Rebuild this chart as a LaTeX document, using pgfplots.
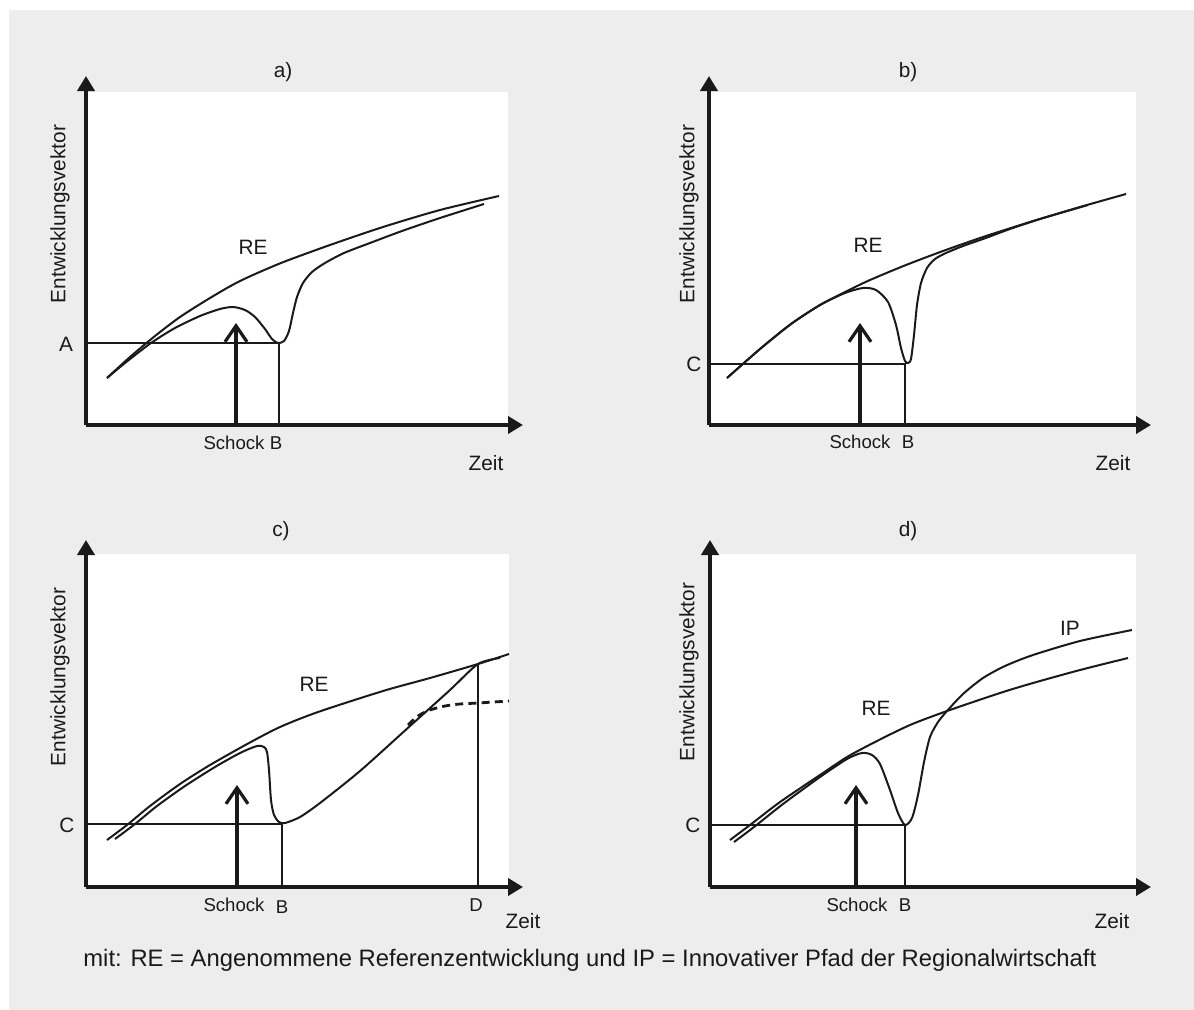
\documentclass[border=0pt]{standalone}
\usepackage{fontspec}
\setmainfont{Liberation Sans}
\usepackage{pgfplots}
\pgfplotsset{compat=1.18}
\usetikzlibrary{arrows.meta}
\definecolor{bg}{HTML}{EDEDED}
\definecolor{ink}{HTML}{1A1A1A}

% all coordinates are pixel positions (y grows downwards)
\pgfplotsset{
  panel/.style={x=0.5pt, y=0.5pt, y dir=reverse, anchor=south west,
    axis line style={draw=none}, xtick=\empty, ytick=\empty, clip=false,
    axis background/.style={fill=white}},
  crv/.style={ink, line width=1.0pt, smooth, tension=0.45, mark=none},
  guide/.style={ink, line width=0.65pt, mark=none},
  axarrow/.style={ink, line width=1.9pt, mark=none, -{Triangle[length=7.5pt,width=8.5pt]}},
  shock/.style={ink, line width=1.7pt, mark=none, -{Straight Barb[length=8pt,width=11pt,line width=1.6pt]}},
}
\tikzset{lab/.style={font=\fontsize{10.4}{12}\selectfont, text=ink},
         slab/.style={font=\fontsize{9.3}{11}\selectfont, text=ink},
         ylab/.style={font=\fontsize{10.4}{12}\selectfont, text=ink, rotate=90}}

\begin{document}
\begin{tikzpicture}
\fill[white] (0,0) rectangle (597pt,-505pt);
\fill[bg] (4.5pt,-5pt) rectangle (597pt,-505pt);

% ---------------- a)
\begin{axis}[panel, at={(43pt,-212.5pt)}, xmin=86, xmax=508, ymin=92, ymax=425]
\addplot[guide] coordinates {(86,343) (279,343) (279,425)};
\addplot[crv] coordinates {(107,378) (130,357) (155,336) (180,317) (210,298) (240,281)
  (281,263) (330,245) (383,227) (440,210) (499,196)};
\addplot[crv] coordinates {(107,378) (125,363) (151,343) (175,328) (200,316) (220,309)
  (233,307) (245,310) (255,317) (265,329) (272,339) (278,343) (284,341) (289,331)
  (293,313) (297,297) (303,283) (312,272) (325,263) (344,253) (370,243) (402,231)
  (440,218) (484,204)};
\addplot[shock] coordinates {(236,425) (236,323)};
\addplot[axarrow] coordinates {(86,425) (523,425)};
\addplot[axarrow] coordinates {(86,425) (86,76)};
\node[lab] at (axis cs:283,72) {a)};
\node[ylab] at (axis cs:60,214) {Entwicklungsvektor};
\node[lab] at (axis cs:66,344) {A};
\node[slab] at (axis cs:234,443) {Schock};
\node[slab] at (axis cs:276,443) {B};
\node[lab] at (axis cs:486,463) {Zeit};
\node[lab] at (axis cs:253,247) {RE};
\end{axis}

% ---------------- b)
\begin{axis}[panel, at={(354.5pt,-212.5pt)}, xmin=709, xmax=1136, ymin=92, ymax=425]
\addplot[guide] coordinates {(709,364) (905,364) (905,425)};
\addplot[crv] coordinates {(727,378) (760,349) (791,324) (820,305) (845,292) (870,280)
  (906,265) (943,251) (983,237) (1030,222) (1080,207) (1126,194)};
\addplot[crv] coordinates {(727,378) (760,349) (791,324) (820,305) (845,293) (863,288)
  (876,290) (888,302) (896,325) (901,348) (905,361) (908,363) (911,359) (914,335)
  (917,305) (921,283) (927,268) (935,259) (946,253) (963,246) (983,239) (1010,229)
  (1040,219) (1088,205)};
\addplot[shock] coordinates {(860,425) (860,323)};
\addplot[axarrow] coordinates {(709,425) (1151,425)};
\addplot[axarrow] coordinates {(709,425) (709,76)};
\node[lab] at (axis cs:908,72) {b)};
\node[ylab] at (axis cs:689,214) {Entwicklungsvektor};
\node[lab] at (axis cs:694,364) {C};
\node[slab] at (axis cs:860,442) {Schock};
\node[slab] at (axis cs:908,442) {B};
\node[lab] at (axis cs:1113,463) {Zeit};
\node[lab] at (axis cs:868,245) {RE};
\end{axis}

% ---------------- c)
\begin{axis}[panel, at={(43pt,-443.5pt)}, xmin=86, xmax=509, ymin=554, ymax=887]
\addplot[guide] coordinates {(86,824) (282,824) (282,887)};
\addplot[ink, line width=0.8pt, mark=none] coordinates {(478,664) (478,887)};
\addplot[crv] coordinates {(107,840) (127,825) (150,806) (180,784) (210,765) (249,743)
  (280,727) (318,712) (383,691) (430,678) (478,664) (509,654)};
\addplot[crv] coordinates {(115,839) (135,824) (157,806) (185,786) (215,767) (240,753)
  (257,746) (264,747) (267,752) (269,770) (271,800) (274,815) (279,822) (285,823)
  (300,817) (320,803) (360,771) (410,726) (450,690) (478,664) (500,658)};
\addplot[ink, line width=1.4pt, smooth, mark=none, dash pattern=on 4pt off 2.6pt]
  coordinates {(408,725) (418,716) (430,710) (445,706) (460,704) (478,703) (509,701)};
\addplot[shock] coordinates {(237,887) (237,785)};
\addplot[axarrow] coordinates {(86,887) (523,887)};
\addplot[axarrow] coordinates {(86,887) (86,540)};
\node[lab] at (axis cs:281,531) {c)};
\node[ylab] at (axis cs:60,677) {Entwicklungsvektor};
\node[lab] at (axis cs:67,825) {C};
\node[slab] at (axis cs:234,905) {Schock};
\node[slab] at (axis cs:282,907) {B};
\node[slab] at (axis cs:476,905) {D};
\node[lab] at (axis cs:523,921) {Zeit};
\node[lab] at (axis cs:314,684) {RE};
\end{axis}

% ---------------- d)
\begin{axis}[panel, at={(355pt,-443.5pt)}, xmin=710, xmax=1136, ymin=554, ymax=887]
\addplot[guide] coordinates {(710,825) (905,825) (905,887)};
\addplot[crv] coordinates {(730,840) (750,825) (780,802) (820,775) (847,757) (877,741)
  (910,725) (947,711) (1000,693) (1033,683) (1080,670) (1128,658)};
\addplot[crv] coordinates {(734,842) (754,827) (783,804) (820,777) (847,759) (862,753)
  (872,755) (880,764) (890,790) (898,813) (905,825) (912,818) (918,795) (924,762)
  (930,737) (938,722) (947,711) (963,694) (983,678) (1005,666) (1033,655) (1080,641)
  (1132,630)};
\addplot[shock] coordinates {(856,887) (856,785)};
\addplot[axarrow] coordinates {(710,887) (1151,887)};
\addplot[axarrow] coordinates {(710,887) (710,540)};
\node[lab] at (axis cs:908,531) {d)};
\node[ylab] at (axis cs:689,672) {Entwicklungsvektor};
\node[lab] at (axis cs:693,825) {C};
\node[slab] at (axis cs:857,905) {Schock};
\node[slab] at (axis cs:905,905) {B};
\node[lab] at (axis cs:1112,921) {Zeit};
\node[lab] at (axis cs:876,708) {RE};
\node[lab] at (axis cs:1070,628) {IP};
\end{axis}

\node[anchor=west, inner sep=0pt, font=\fontsize{11.9}{14}\selectfont, text=ink]
  at (41.5pt,-480pt) {mit: RE = Angenommene Referenzentwicklung und IP = Innovativer Pfad der Regionalwirtschaft};
\end{tikzpicture}
\end{document}
